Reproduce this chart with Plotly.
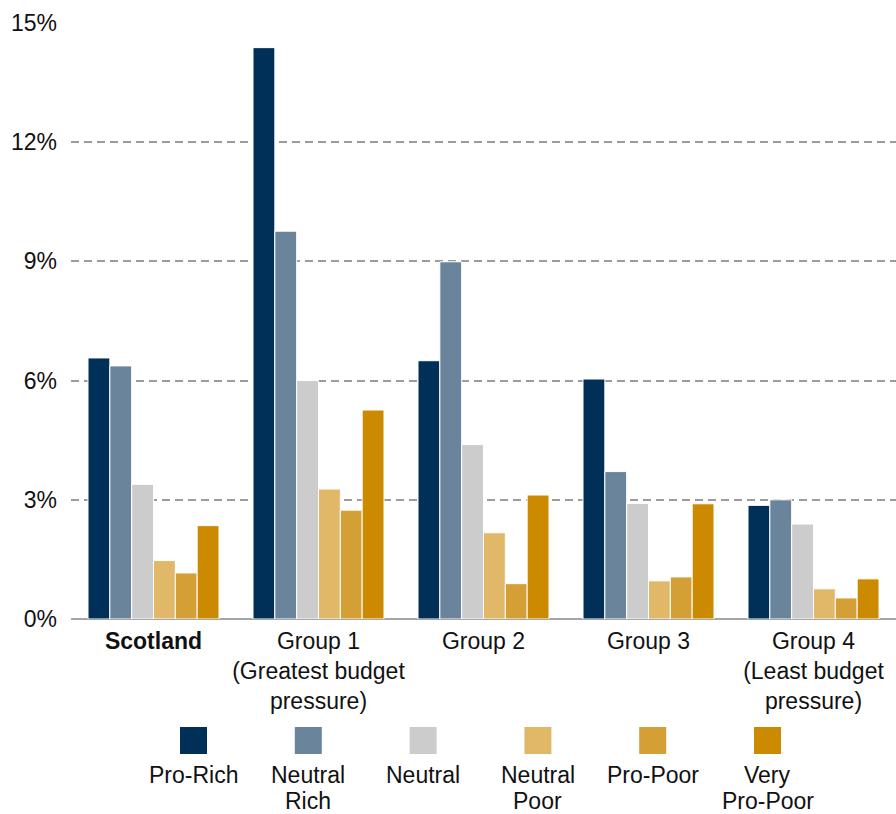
import plotly.graph_objects as go

# ---- data ----
categories = [
    "<b>Scotland</b>",
    "Group 1<br>(Greatest budget<br>pressure)",
    "Group 2",
    "Group 3",
    "Group 4<br>(Least budget<br>pressure)",
]
series_names = ["Pro-Rich", "Neutral Rich", "Neutral", "Neutral Poor", "Pro-Poor", "Very Pro-Poor"]
legend_labels = ["Pro-Rich", "Neutral\nRich", "Neutral", "Neutral\nPoor", "Pro-Poor", "Very\nPro-Poor"]
pro_rich      = [6.57, 14.38, 6.50, 6.04, 2.86]
neutral_rich  = [6.37, 9.76, 8.99, 3.71, 3.00]
neutral       = [3.39, 6.00, 4.39, 2.91, 2.39]
neutral_poor  = [1.47, 3.27, 2.17, 0.96, 0.76]
pro_poor      = [1.16, 2.74, 0.89, 1.06, 0.53]
very_pro_poor = [2.35, 5.26, 3.12, 2.90, 1.01]
series_values = [pro_rich, neutral_rich, neutral, neutral_poor, pro_poor, very_pro_poor]
colors = ["#003057", "#6A849B", "#CCCCCC", "#E0B868", "#D4A035", "#CC8A00"]
y_ticks = [0, 3, 6, 9, 12, 15]
y_tick_labels = ["0%", "3%", "6%", "9%", "12%", "15%"]

FONT = "Liberation Sans, Arial, sans-serif"
FS = 23

W, H = 896, 814
ML, MR, MT, MB = 71, 0, 23, 195
PW, PH = W - ML - MR, H - MT - MB

fig = go.Figure()
for name, vals, col in zip(series_names, series_values, colors):
    fig.add_trace(go.Bar(
        x=categories, y=vals, name=name,
        marker=dict(color=col, line=dict(color="white", width=1)),
        showlegend=False,
    ))

# ---- custom legend (squares above, labels below) ----
LEG_X0, LEG_STEP, LEG_SQ = 180, 114.8, 27
LEG_Y0 = 727
LAB_Y0, LAB_DY = 775, 25.5
shapes, annotations = [], []
def px_x(p):
    return (p - ML) / PW
def px_y(p):
    return (H - MB - p) / PH
for i, (lab, col) in enumerate(zip(legend_labels, colors)):
    x0 = LEG_X0 + i * LEG_STEP
    shapes.append(dict(type="rect", xref="paper", yref="paper",
                       x0=px_x(x0), x1=px_x(x0 + LEG_SQ),
                       y0=px_y(LEG_Y0 + LEG_SQ), y1=px_y(LEG_Y0),
                       fillcolor=col, line=dict(width=0)))
    for j, line in enumerate(lab.split("\n")):
        annotations.append(dict(xref="paper", yref="paper",
                                x=px_x(x0 + LEG_SQ / 2), y=px_y(LAB_Y0 + j * LAB_DY),
                                text=line, showarrow=False,
                                xanchor="center", yanchor="middle",
                                font=dict(family=FONT, size=FS, color="#111111")))

fig.update_layout(
    width=W, height=H,
    margin=dict(l=ML, r=MR, t=MT, b=MB, pad=0),
    paper_bgcolor="white", plot_bgcolor="white",
    barmode="group", bargap=0.206, bargroupgap=0,
    font=dict(family=FONT, size=FS, color="#111111"),
    shapes=shapes, annotations=annotations,
    xaxis=dict(showgrid=False, showline=False, ticks="",
               tickfont=dict(family=FONT, size=FS, color="#111111"),
               ticklabelstandoff=6),
    yaxis=dict(range=[0, 15], tickvals=y_ticks, ticktext=y_tick_labels,
               showgrid=True, gridcolor="#9C9C9C", gridwidth=1.5, griddash="8px,5px",
               zeroline=True, zerolinecolor="#A6A6A6", zerolinewidth=2,
               showline=False, ticks="", ticklabelstandoff=13,
               tickfont=dict(family=FONT, size=FS, color="#111111")),
)

fig.write_html("out.html")
